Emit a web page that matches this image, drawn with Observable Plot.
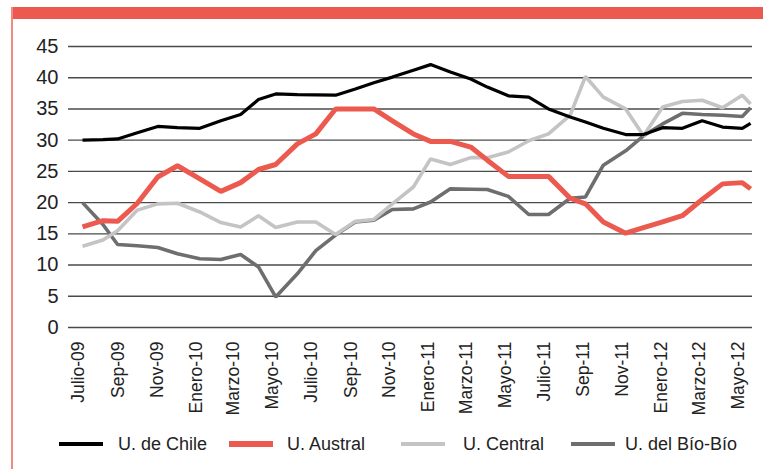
<!DOCTYPE html>
<html>
<head>
<meta charset="utf-8">
<script src="https://cdn.jsdelivr.net/npm/d3@7"></script>
<script src="https://cdn.jsdelivr.net/npm/@observablehq/plot@0.6"></script>
<style>
  html, body { margin: 0; padding: 0; background: #fff; }
  #wrap { position: relative; width: 763px; height: 469px; overflow: hidden; font-family: "Liberation Sans", Arial, sans-serif; }
  #topbar { position: absolute; left: 11px; top: 7px; width: 752px; height: 12px; background: #EC5A4F; }
  #leftline { position: absolute; left: 11px; top: 7px; width: 1.5px; height: 462px; background: #F08B82; }
  #chart { position: absolute; left: 0; top: 0; }
  #legend { position: absolute; left: 0; top: 431px; width: 763px; height: 26px; }
  .sw { position: absolute; top: 13px; width: 44px; transform: translateY(-50%); }
  .lt { position: absolute; top: 0; font-size: 18px; line-height: 26px; color: #222; white-space: nowrap; }
</style>
</head>
<body>
<div id="wrap">
  <div id="chart"></div>
  <div id="topbar"></div>
  <div id="leftline"></div>
  <div id="legend"></div>
</div>
<script>
const dates = [
  "2009-07-07","2009-08-08","2009-08-31","2009-10-01","2009-11-02","2009-12-03",
  "2010-01-07","2010-02-09","2010-03-12","2010-04-09","2010-05-06","2010-06-09",
  "2010-07-08","2010-08-08","2010-09-08","2010-10-07","2010-11-05","2010-12-08",
  "2011-01-04","2011-02-04","2011-03-08","2011-04-03","2011-05-06","2011-06-07",
  "2011-07-08","2011-08-11","2011-09-04","2011-10-02","2011-11-06","2011-12-04",
  "2012-01-03","2012-02-03","2012-03-05","2012-04-06","2012-05-07","2012-05-20"
];
const chile = [30.0,30.1,30.2,31.2,32.2,32.0,31.9,33.1,34.1,36.5,37.4,37.3,
               37.25,37.2,38.2,39.2,40.1,41.2,42.1,40.9,39.8,38.5,37.1,36.9,
               35.0,33.7,32.9,31.9,30.9,30.9,32.0,31.9,33.1,32.1,31.9,32.7];
const austral = [16.1,17.1,17.0,19.9,24.1,25.9,23.8,21.8,23.2,25.3,26.1,29.4,
                 31.0,35.0,35.0,35.0,33.1,31.0,29.8,29.8,28.9,26.8,24.2,24.2,
                 24.2,20.7,19.8,16.9,15.1,16.0,16.9,17.9,20.5,23.0,23.2,22.2];
const central = [13.0,14.0,15.5,18.8,19.8,19.9,18.5,16.8,16.1,17.9,16.0,16.9,
                 16.9,14.9,17.0,17.3,19.8,22.5,27.0,26.1,27.2,27.2,28.1,29.9,
                 31.0,34.0,40.2,36.9,35.0,30.7,35.3,36.2,36.4,35.2,37.2,35.8];
const biobio = [20.0,16.5,13.3,13.1,12.8,11.8,11.0,10.9,11.7,9.7,4.9,8.6,
                12.3,14.8,16.9,17.2,18.9,19.0,20.1,22.2,22.15,22.1,21.0,18.1,
                18.1,20.7,20.9,26.0,28.3,30.7,32.6,34.3,34.1,34.0,33.8,35.2];

const seriesNames = ["U. de Chile", "U. Austral", "U. Central", "U. del Bío-Bío"];
const seriesColors = ["#000000", "#EC5A4F", "#C4C4C4", "#6E6E70"];
const seriesWidths = [3.2, 5, 3.6, 3.6];
const seriesValues = [chile, austral, central, biobio];

const tickDates = [
  "2009-07-01","2009-09-01","2009-11-01","2010-01-01","2010-03-01","2010-05-01",
  "2010-07-01","2010-09-01","2010-11-01","2011-01-01","2011-03-01","2011-05-01",
  "2011-07-01","2011-09-01","2011-11-01","2012-01-01","2012-03-01","2012-05-01"
];
const tickLabels = [
  "Julio-09","Sep-09","Nov-09","Enero-10","Marzo-10","Mayo-10",
  "Julio-10","Sep-10","Nov-10","Enero-11","Marzo-11","Mayo-11",
  "Julio-11","Sep-11","Nov-11","Enero-12","Marzo-12","Mayo-12"
];
const yTicks = [0,5,10,15,20,25,30,35,40,45];

const tickTimes = tickDates.map(d => new Date(d).getTime());
const rows = seriesNames.flatMap((name, s) =>
  dates.map((d, i) => ({serie: name, date: new Date(d), value: seriesValues[s][i]})));

// drawing order: Bío-Bío, Central, Chile, Austral
const order = [3, 2, 0, 1];

const chart = Plot.plot({
  width: 763,
  height: 420,
  marginLeft: 68,
  marginRight: 11,
  marginTop: 46,
  marginBottom: 93,
  style: {fontFamily: "Liberation Sans, Arial, sans-serif", background: "transparent", color: "#222"},
  x: {
    type: "utc",
    domain: [new Date("2009-06-15"), new Date("2012-05-23")]
  },
  y: {domain: [0, 45]},
  marks: [
    Plot.ruleY(yTicks, {stroke: "#4a4a4a", strokeWidth: 1.4}),
    Plot.axisY(yTicks, {tickSize: 0, tickPadding: 10, fontSize: 20, label: null, fill: "#222"}),
    Plot.axisX(tickDates.map(d => new Date(d)), {
      tickFormat: d => { const k = tickTimes.indexOf(+d); return k >= 0 ? tickLabels[k] : ""; },
      tickRotate: -90, tickSize: 0, tickPadding: 14, fontSize: 17.5, label: null, fill: "#222"
    }),
    ...order.map(s => Plot.line(rows.filter(r => r.serie === seriesNames[s]), {
      x: "date", y: "value", stroke: seriesColors[s], strokeWidth: seriesWidths[s],
      strokeLinejoin: "miter", strokeLinecap: "butt"
    }))
  ]
});
document.getElementById("chart").appendChild(chart);

// Legend
const legend = document.getElementById("legend");
const swLeft = [59, 229, 401, 571];
const txLeft = [118, 287, 463, 625];
const swH = [4, 6, 4, 4];
seriesNames.forEach((name, s) => {
  const sw = document.createElement("div");
  sw.className = "sw";
  sw.style.left = swLeft[s] + "px";
  sw.style.height = swH[s] + "px";
  sw.style.background = seriesColors[s];
  legend.appendChild(sw);
  const tx = document.createElement("div");
  tx.className = "lt";
  tx.style.left = txLeft[s] + "px";
  tx.textContent = name;
  legend.appendChild(tx);
});
</script>
</body>
</html>
